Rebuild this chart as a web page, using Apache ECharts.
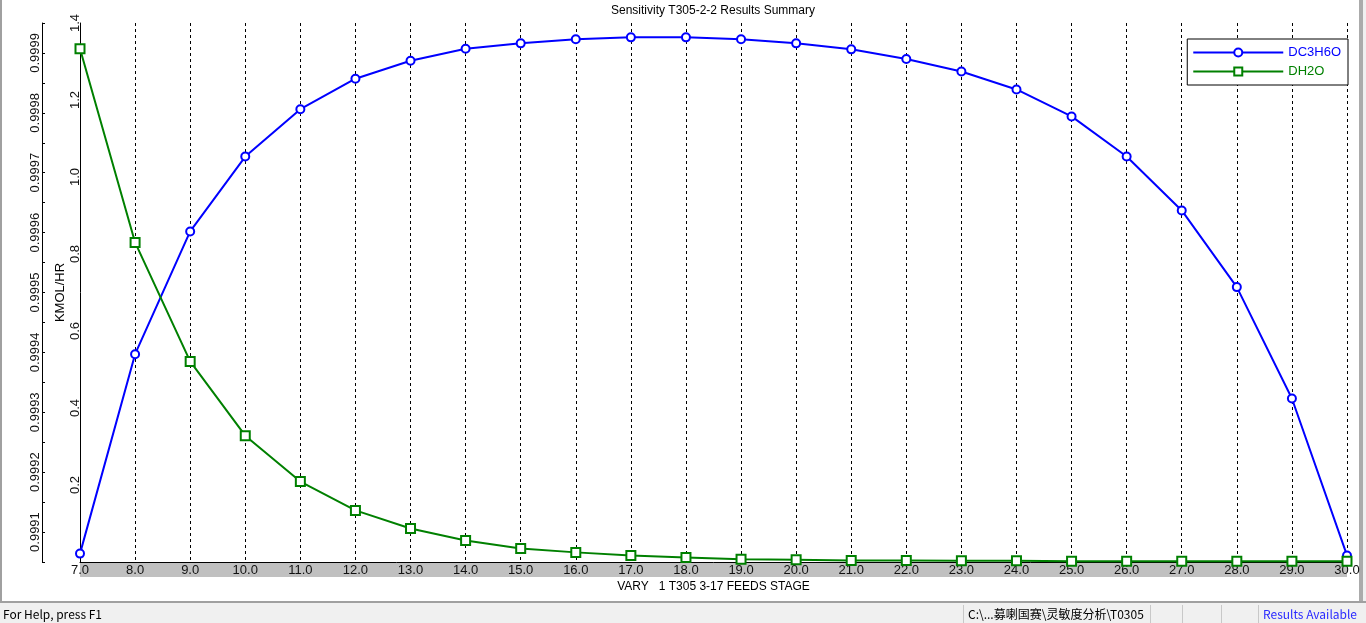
<!DOCTYPE html>
<html>
<head>
<meta charset="utf-8">
<title>Sensitivity T305-2-2 Results Summary</title>
<script src="https://cdn.jsdelivr.net/npm/echarts@6.0.0/dist/echarts.min.js"></script>
<style>
html,body{margin:0;padding:0;background:#fff;overflow:hidden;}
#main{width:1366px;height:623px;}
</style>
</head>
<body>
<div id="main"></div>
<script>
// VARY 1 : T305 3-17 FEEDS STAGE
var stages = [7,8,9,10,11,12,13,14,15,16,17,18,19,20,21,22,23,24,25,26,27,28,29,30];
// DC3H6O (outer axis)
var dc3h6o = [0.999064,0.999397,0.999602,0.999727,0.999806,0.999857,0.999887,0.999907,
              0.999916,0.999923,0.999926,0.999926,0.999923,0.999916,0.999906,0.999890,
              0.999869,0.999839,0.999794,0.999727,0.999637,0.999509,0.999323,0.999061];
// DH2O, KMOL/HR (inner axis)
var dh2o = [1.333,0.830,0.521,0.328,0.209,0.134,0.087,0.056,
            0.035,0.025,0.017,0.012,0.007,0.006,0.004,0.004,
            0.003,0.003,0.002,0.002,0.002,0.002,0.002,0.002];
var seriesNames = ['DC3H6O','DH2O'];

var font = '"Liberation Sans", Arial, sans-serif';
var cjk = '"Noto Sans CJK SC", "Liberation Sans", sans-serif';

function pairs(xs, ys){
	var out = [];
	for(var i=0;i<xs.length;i++) out.push([xs[i], ys[i]]);
	return out;
}

var chart = echarts.init(document.getElementById('main'), null, {renderer:'canvas'});

chart.setOption({
	animation: false,
	backgroundColor: '#fff',
	title: {
		text: 'Sensitivity T305-2-2 Results Summary',
		left: 713, top: 5, padding: 0,
		textAlign: 'center',
		textStyle: {fontFamily: font, fontSize: 12, fontWeight: 'normal', color: '#000'}
	},
	legend: {
		orient: 'vertical',
		right: 18, top: 39,
		itemWidth: 90, itemHeight: 10, itemGap: 6, itemTextGap: 5,
		padding: [7, 7, 7, 5],
		borderColor: '#000', borderWidth: 1, backgroundColor: '#fff',
		textStyle: {fontFamily: font, fontSize: 13},
		data: [
			{name: seriesNames[0], textStyle: {color: '#0000ff'}},
			{name: seriesNames[1], textStyle: {color: '#008000'}}
		]
	},
	grid: {left: 80, right: 19, top: 23, bottom: 61, containLabel: false, outerBoundsMode: 'none'},
	xAxis: {
		type: 'value', min: 7, max: 30, interval: 1,
		name: 'VARY   1 T305 3-17 FEEDS STAGE',
		nameLocation: 'middle', nameGap: 19, nameMoveOverlap: false,
		nameTextStyle: {fontFamily: font, fontSize: 12, color: '#000'},
		axisLine: {show: true, lineStyle: {color: '#000', width: 1}},
		axisTick: {show: false},
		axisLabel: {fontFamily: font, fontSize: 13, color: '#111', margin: 2,
			formatter: function(v){ return v.toFixed(1); }},
		splitLine: {show: true, lineStyle: {color: '#000', width: 1, type: [3, 3]}}
	},
	yAxis: [
		{
			type: 'value', min: 0, max: 1.4, interval: 0.2, position: 'left',
			name: 'KMOL/HR', nameLocation: 'middle', nameGap: 13, nameRotate: 90,
			nameMoveOverlap: false,
			nameTextStyle: {fontFamily: font, fontSize: 13, color: '#000'},
			axisLine: {show: true, lineStyle: {color: '#000', width: 1}},
			axisTick: {show: false},
			axisLabel: {fontFamily: font, fontSize: 13, color: '#111', rotate: 90, margin: -2,
				formatter: function(v){ return v === 0 ? '' : v.toFixed(1); }},
			splitLine: {show: false}
		},
		{
			type: 'value', min: 0.99905, max: 0.99995, interval: 0.00005, position: 'left', offset: 38,
			axisLine: {show: true, onZero: false, lineStyle: {color: '#000', width: 1}},
			axisTick: {show: true, inside: true, length: 3, lineStyle: {color: '#000'}},
			axisLabel: {fontFamily: font, fontSize: 13, color: '#111', rotate: 90, margin: 0,
				formatter: function(v){
					var k = Math.round(v * 100000);
					return k % 10 === 0 ? v.toFixed(4) : '';
				}},
			splitLine: {show: false}
		}
	],
	series: [
		{
			name: seriesNames[0], type: 'line', yAxisIndex: 1,
			data: pairs(stages, dc3h6o),
			symbol: 'emptyCircle', symbolSize: 8,
			lineStyle: {color: '#0000ff', width: 2},
			itemStyle: {color: '#0000ff', borderWidth: 1.5}
		},
		{
			name: seriesNames[1], type: 'line', yAxisIndex: 0,
			data: pairs(stages, dh2o),
			symbol: 'emptyRect', symbolSize: 9,
			lineStyle: {color: '#008000', width: 2},
			itemStyle: {color: '#008000', borderWidth: 1.5}
		}
	]
});

// grey band under the stage labels, placed from the axis itself
var p0 = chart.convertToPixel({xAxisIndex: 0, yAxisIndex: 0}, [stages[0], 0]);
var p1 = chart.convertToPixel({xAxisIndex: 0, yAxisIndex: 0}, [stages[stages.length-1], 0]);

// window chrome: borders and status bar
chart.setOption({
	graphic: [
		{type: 'rect', z: -1, silent: true,
			shape: {x: p0[0], y: p0[1], width: p1[0]-p0[0], height: 15},
			style: {fill: '#c0c0c0'}},
		{type: 'rect', silent: true, shape: {x: 0, y: 0, width: 2, height: 603}, style: {fill: '#a0a0a0'}},
		{type: 'rect', silent: true, shape: {x: 1359, y: 0, width: 4, height: 603}, style: {fill: '#ababab'}},
		{type: 'rect', silent: true, shape: {x: 1363, y: 0, width: 3, height: 603}, style: {fill: '#f0f0f0'}},
		{type: 'rect', silent: true, shape: {x: 0, y: 601, width: 1366, height: 2}, style: {fill: '#a0a0a0'}},
		{type: 'rect', silent: true, shape: {x: 0, y: 603, width: 1366, height: 20}, style: {fill: '#f0f0f0'}},
		{type: 'line', silent: true, shape: {x1: 963.5, y1: 605, x2: 963.5, y2: 623}, style: {stroke: '#c8c8c8'}},
		{type: 'line', silent: true, shape: {x1: 1150.5, y1: 605, x2: 1150.5, y2: 623}, style: {stroke: '#c8c8c8'}},
		{type: 'line', silent: true, shape: {x1: 1182.5, y1: 605, x2: 1182.5, y2: 623}, style: {stroke: '#c8c8c8'}},
		{type: 'line', silent: true, shape: {x1: 1221.5, y1: 605, x2: 1221.5, y2: 623}, style: {stroke: '#c8c8c8'}},
		{type: 'line', silent: true, shape: {x1: 1258.5, y1: 605, x2: 1258.5, y2: 623}, style: {stroke: '#c8c8c8'}},
		{type: 'text', silent: true, x: 3, y: 614,
			style: {text: 'For Help, press F1', font: '12px ' + cjk, fill: '#000', verticalAlign: 'middle'}},
		{type: 'text', silent: true, x: 968, y: 614,
			style: {text: 'C:\\...募喇国赛\\灵敏度分析\\T0305', font: '12px ' + cjk, fill: '#000', verticalAlign: 'middle'}},
		{type: 'text', silent: true, x: 1263, y: 614,
			style: {text: 'Results Available', font: '12px ' + cjk, fill: '#2a2aff', verticalAlign: 'middle'}}
	]
});
</script>
</body>
</html>
